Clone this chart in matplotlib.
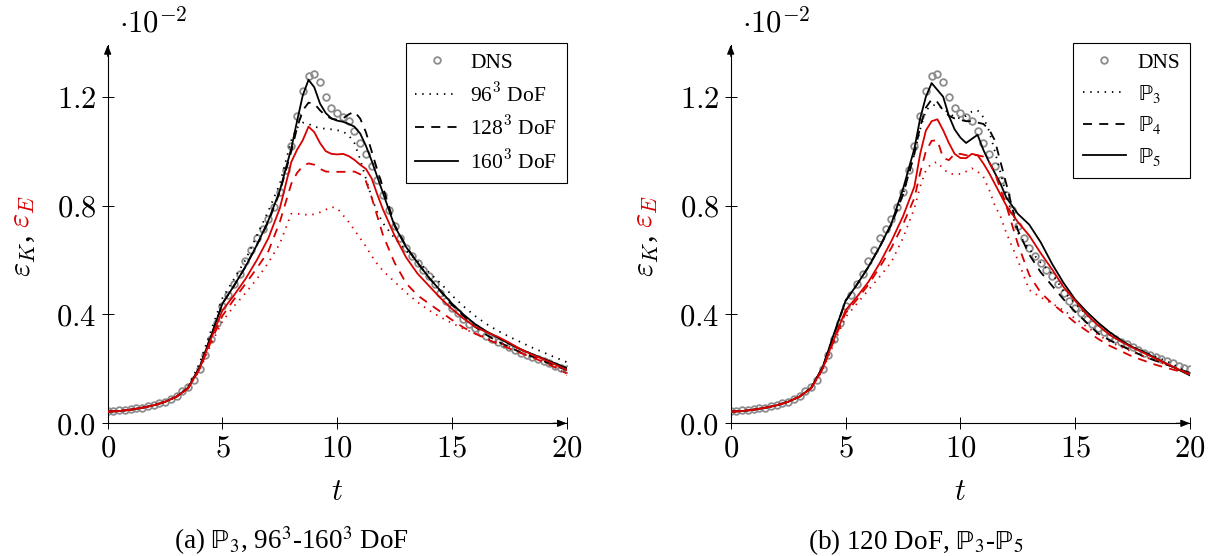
import numpy as np
import matplotlib.pyplot as plt
from matplotlib.lines import Line2D

plt.rcParams['mathtext.fontset'] = 'cm'
plt.rcParams['font.family'] = ['Liberation Serif', 'DejaVu Sans']

# ---- data (values in units of 1e-2) ----
t_dns = np.arange(0, 20.01, 0.25)
dns = [0.046, 0.047, 0.048, 0.050, 0.052, 0.055, 0.058, 0.062, 0.067, 0.073,
       0.080, 0.090, 0.102, 0.117, 0.135, 0.160, 0.200, 0.250, 0.310, 0.370,
       0.430, 0.470, 0.510, 0.550, 0.595, 0.635, 0.680, 0.715, 0.750, 0.795,
       0.850, 0.930, 1.020, 1.130, 1.220, 1.275, 1.285, 1.255, 1.200, 1.160,
       1.140, 1.125, 1.110, 1.075, 1.030, 0.990, 0.945, 0.895, 0.840, 0.785,
       0.725, 0.680, 0.645, 0.615, 0.590, 0.565, 0.540, 0.510, 0.480, 0.450,
       0.425, 0.405, 0.385, 0.365, 0.350, 0.335, 0.322, 0.310, 0.300, 0.290,
       0.280, 0.270, 0.260, 0.252, 0.244, 0.236, 0.228, 0.220, 0.212, 0.205,
       0.198]

t = [0, 0.5, 1, 1.5, 2, 2.5, 3, 3.5, 4, 4.5, 5, 5.5, 6, 6.5, 7, 7.5,
     8, 8.25, 8.5, 8.75, 9, 9.25, 9.5, 9.75, 10, 10.25, 10.5, 10.75,
     11, 11.25, 11.5, 11.75, 12, 12.5, 13, 13.5, 14, 14.5, 15, 15.5,
     16, 16.5, 17, 17.5, 18, 18.5, 19, 19.5, 20]

# (a) P3, 96^3-160^3 DoF
a_k96 = [0.043, 0.045, 0.050, 0.057, 0.066, 0.079, 0.098, 0.135, 0.220, 0.340,
         0.460, 0.530, 0.600, 0.690, 0.780, 0.880, 1.040, 1.085, 1.105, 1.100,
         1.090, 1.085, 1.082, 1.080, 1.077, 1.072, 1.058, 1.030, 0.970, 0.900,
         0.830, 0.775, 0.735, 0.680, 0.635, 0.595, 0.555, 0.515, 0.470, 0.430,
         0.395, 0.365, 0.340, 0.318, 0.298, 0.278, 0.260, 0.242, 0.225]
a_k128 = [0.043, 0.045, 0.050, 0.057, 0.066, 0.079, 0.098, 0.130, 0.205, 0.320,
          0.440, 0.505, 0.575, 0.655, 0.740, 0.850, 1.000, 1.085, 1.150, 1.178,
          1.175, 1.150, 1.130, 1.120, 1.115, 1.120, 1.135, 1.145, 1.120, 1.070,
          1.000, 0.930, 0.865, 0.730, 0.650, 0.590, 0.535, 0.485, 0.435, 0.395,
          0.355, 0.325, 0.300, 0.280, 0.260, 0.245, 0.228, 0.212, 0.195]
a_k160 = [0.043, 0.045, 0.050, 0.057, 0.066, 0.079, 0.098, 0.130, 0.205, 0.320,
          0.440, 0.505, 0.575, 0.655, 0.745, 0.855, 1.010, 1.110, 1.205, 1.262,
          1.235, 1.175, 1.140, 1.120, 1.112, 1.108, 1.100, 1.090, 1.065, 1.020,
          0.965, 0.905, 0.845, 0.725, 0.648, 0.590, 0.535, 0.487, 0.440, 0.400,
          0.365, 0.338, 0.315, 0.292, 0.272, 0.254, 0.237, 0.220, 0.203]
a_e96 = [0.043, 0.045, 0.050, 0.057, 0.066, 0.079, 0.098, 0.128, 0.195, 0.290,
         0.375, 0.430, 0.478, 0.530, 0.590, 0.660, 0.770, 0.770, 0.768, 0.765,
         0.768, 0.775, 0.785, 0.795, 0.790, 0.765, 0.740, 0.710, 0.680, 0.650,
         0.615, 0.585, 0.560, 0.520, 0.480, 0.445, 0.415, 0.390, 0.368, 0.348,
         0.330, 0.313, 0.298, 0.282, 0.266, 0.250, 0.232, 0.212, 0.176]
a_e128 = [0.043, 0.045, 0.050, 0.057, 0.066, 0.079, 0.098, 0.128, 0.198, 0.300,
          0.395, 0.455, 0.512, 0.570, 0.632, 0.740, 0.880, 0.920, 0.945, 0.955,
          0.950, 0.935, 0.925, 0.924, 0.924, 0.924, 0.924, 0.925, 0.915, 0.890,
          0.830, 0.760, 0.690, 0.590, 0.515, 0.470, 0.440, 0.410, 0.380, 0.352,
          0.330, 0.310, 0.292, 0.275, 0.258, 0.242, 0.225, 0.205, 0.183]
a_e160 = [0.043, 0.045, 0.050, 0.057, 0.066, 0.079, 0.098, 0.128, 0.200, 0.310,
          0.415, 0.470, 0.530, 0.600, 0.680, 0.790, 0.960, 1.005, 1.040, 1.090,
          1.070, 1.030, 1.000, 0.990, 0.988, 0.990, 0.982, 0.968, 0.950, 0.935,
          0.900, 0.840, 0.785, 0.690, 0.610, 0.550, 0.505, 0.460, 0.420, 0.385,
          0.355, 0.335, 0.318, 0.296, 0.272, 0.252, 0.235, 0.216, 0.196]

# (b) 120 DoF, P3-P5
b_k3 = [0.043, 0.045, 0.050, 0.057, 0.066, 0.079, 0.098, 0.130, 0.205, 0.325,
        0.450, 0.510, 0.575, 0.650, 0.730, 0.840, 0.990, 1.080, 1.150, 1.168,
        1.170, 1.155, 1.140, 1.125, 1.120, 1.130, 1.145, 1.150, 1.125, 1.075,
        1.000, 0.920, 0.840, 0.700, 0.640, 0.590, 0.550, 0.485, 0.440, 0.400,
        0.360, 0.325, 0.300, 0.280, 0.262, 0.245, 0.228, 0.205, 0.180]
b_k4 = [0.043, 0.045, 0.050, 0.057, 0.066, 0.079, 0.098, 0.130, 0.205, 0.325,
        0.450, 0.510, 0.575, 0.650, 0.730, 0.840, 0.990, 1.090, 1.160, 1.190,
        1.180, 1.150, 1.130, 1.120, 1.115, 1.110, 1.110, 1.105, 1.100, 1.080,
        1.040, 0.960, 0.880, 0.710, 0.620, 0.555, 0.505, 0.455, 0.410, 0.370,
        0.330, 0.305, 0.285, 0.265, 0.245, 0.230, 0.215, 0.200, 0.185]
b_k5 = [0.043, 0.045, 0.050, 0.057, 0.066, 0.079, 0.098, 0.130, 0.205, 0.330,
        0.450, 0.510, 0.575, 0.650, 0.735, 0.860, 1.010, 1.120, 1.200, 1.250,
        1.225, 1.200, 1.130, 1.080, 1.050, 1.030, 1.045, 1.060, 1.005, 0.960,
        0.920, 0.880, 0.830, 0.770, 0.730, 0.665, 0.585, 0.515, 0.455, 0.410,
        0.370, 0.335, 0.305, 0.280, 0.262, 0.240, 0.218, 0.197, 0.176]
b_e3 = [0.043, 0.045, 0.050, 0.057, 0.066, 0.079, 0.098, 0.128, 0.195, 0.295,
        0.390, 0.440, 0.490, 0.540, 0.593, 0.680, 0.790, 0.870, 0.930, 0.955,
        0.960, 0.935, 0.918, 0.915, 0.916, 0.925, 0.937, 0.925, 0.906, 0.860,
        0.800, 0.760, 0.700, 0.600, 0.490, 0.463, 0.440, 0.415, 0.385, 0.355,
        0.325, 0.300, 0.280, 0.262, 0.245, 0.230, 0.215, 0.200, 0.180]
b_e4 = [0.043, 0.045, 0.050, 0.057, 0.066, 0.079, 0.098, 0.128, 0.198, 0.305,
        0.405, 0.455, 0.510, 0.575, 0.645, 0.730, 0.828, 0.920, 1.000, 1.038,
        1.040, 0.975, 0.967, 0.990, 0.990, 0.985, 0.985, 0.985, 0.980, 0.960,
        0.920, 0.860, 0.800, 0.660, 0.545, 0.480, 0.440, 0.405, 0.370, 0.340,
        0.310, 0.285, 0.265, 0.245, 0.230, 0.215, 0.203, 0.192, 0.182]
b_e5 = [0.043, 0.045, 0.050, 0.057, 0.066, 0.079, 0.098, 0.128, 0.200, 0.310,
        0.415, 0.465, 0.520, 0.590, 0.670, 0.760, 0.870, 0.990, 1.076, 1.110,
        1.117, 1.077, 1.030, 0.990, 0.975, 0.974, 0.990, 0.985, 0.955, 0.920,
        0.880, 0.840, 0.800, 0.740, 0.690, 0.625, 0.565, 0.500, 0.450, 0.400,
        0.360, 0.325, 0.300, 0.278, 0.258, 0.238, 0.218, 0.198, 0.180]

x_ticks = [0, 5, 10, 15, 20]
x_ticklabels = ['$0$', '$5$', '$10$', '$15$', '$20$']
y_ticks = [0.0, 0.4, 0.8, 1.2]
y_ticklabels = ['$0.0$', '$0.4$', '$0.8$', '$1.2$']

RED = '#d80000'
GRAY = '#8c8c8c'
LW = 1.3
DOT = (0, (0.8, 3.2))
DASH = (0, (5, 4))

fig = plt.figure(figsize=(12.12, 5.56), dpi=100)
W, H = 1212, 556


def panel(left_px, right_px, k, e, labels, caption, cap_x):
    ax = fig.add_axes([left_px / W, (H - 423.3) / H,
                       (right_px - left_px) / W, (423.3 - 45) / H])
    ax.plot(t_dns, dns, 'o', ms=4.8, mfc='none', mec=GRAY, mew=1.3, zorder=1)
    for y, ls in zip(k, [DOT, DASH, '-']):
        ax.plot(t, y, color='k', lw=LW, ls=ls, zorder=2)
    for y, ls in zip(e, [DOT, DASH, '-']):
        ax.plot(t, y, color=RED, lw=LW, ls=ls, zorder=3)
    ax.set_xlim(0, 20)
    ax.set_ylim(0, 1.39)
    for s in ['top', 'right']:
        ax.spines[s].set_visible(False)
    for s in ['left', 'bottom']:
        ax.spines[s].set_linewidth(0.8)
    # axis arrow heads
    ax.annotate('', xy=(1, 0), xytext=(0.97, 0), xycoords='axes fraction',
                arrowprops=dict(arrowstyle='-|>,head_length=0.55,head_width=0.22',
                                color='k', lw=0.8, shrinkA=0, shrinkB=0))
    ax.annotate('', xy=(0, 1), xytext=(0, 0.97), xycoords='axes fraction',
                arrowprops=dict(arrowstyle='-|>,head_length=0.55,head_width=0.22',
                                color='k', lw=0.8, shrinkA=0, shrinkB=0))
    ax.set_xticks(x_ticks, x_ticklabels)
    ax.set_yticks(y_ticks, y_ticklabels)
    ax.tick_params(direction='inout', length=8.5, width=0.7, labelsize=22, pad=4)
    ax.set_xlabel('$t$', fontsize=22, labelpad=10)

    handles = [Line2D([], [], ls='none', marker='o', ms=4.8, mfc='none',
                      mec=GRAY, mew=1.3)]
    for ls in [DOT, DASH, '-']:
        handles.append(Line2D([], [], color='k', lw=LW, ls=ls))
    leg = ax.legend(handles, labels, loc='upper right', bbox_to_anchor=(1.0, 1.005),
                    frameon=True, fancybox=False, framealpha=1, edgecolor='k',
                    fontsize=15.5, handlelength=2.0, handletextpad=0.55,
                    labelspacing=0.45, borderpad=0.45, borderaxespad=0, numpoints=1)
    leg.get_frame().set_linewidth(0.8)
    for txt in leg.get_texts():
        if 'ℙ' in txt.get_text():
            txt.set_math_fontfamily('stix')

    fig.text(cap_x / W, 1 - 549 / H, caption, ha='center', va='baseline',
             fontsize=19.5, math_fontfamily='stix')
    fig.text((left_px + 11) / W, 1 - 32 / H, r'$\cdot 10^{-2}$', fontsize=22,
             ha='left', va='baseline')

    # two-coloured y label
    r = fig.canvas.get_renderer()
    xl = (left_px - 85) / W
    t1 = fig.text(xl, 279 / H, r'$\varepsilon_K$,', rotation=90, ha='center',
                  va='bottom', fontsize=22, color='k')
    bb = t1.get_window_extent(r)
    fig.text(xl, (bb.y1 + 7) / H, r'$\varepsilon_E$', rotation=90, ha='center',
             va='bottom', fontsize=22, color=RED)
    return ax


panel(107.7, 566.7, [a_k96, a_k128, a_k160], [a_e96, a_e128, a_e160],
      ['DNS', '96$^3$ DoF', '128$^3$ DoF', '160$^3$ DoF'],
      r'(a) $\mathrm{ℙ}_3$, 96$^3$-160$^3$ DoF', 292)
panel(730.7, 1190, [b_k3, b_k4, b_k5], [b_e3, b_e4, b_e5],
      ['DNS', r'$\mathrm{ℙ}_3$', r'$\mathrm{ℙ}_4$', r'$\mathrm{ℙ}_5$'],
      r'(b) 120 DoF, $\mathrm{ℙ}_3$-$\mathrm{ℙ}_5$', 916)

fig.savefig('out.png', dpi=100)
